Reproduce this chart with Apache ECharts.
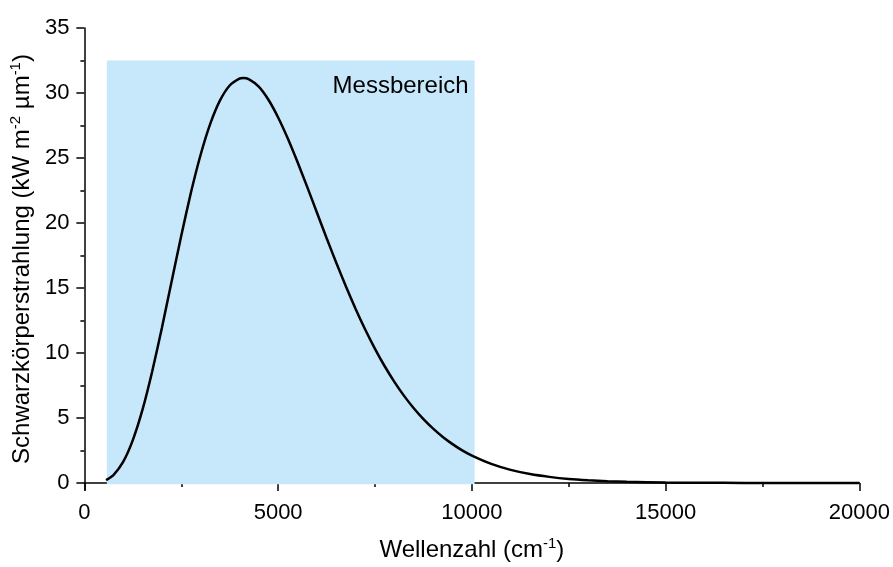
<!DOCTYPE html>
<html>
<head>
<meta charset="utf-8">
<script src="https://cdn.jsdelivr.net/npm/echarts@6/dist/echarts.min.js"></script>
<style>
  html, body { margin: 0; padding: 0; background: #ffffff; }
  #chart { width: 893px; height: 567px; }
</style>
</head>
<body>
<div id="chart"></div>
<script>
// Blackbody spectral irradiance against wavenumber
var wavenumbers = [560, 750, 1000, 1250, 1500, 1750, 2000, 2250, 2500, 2750, 3000, 3250, 3500, 3750,
  4000, 4100, 4250, 4500, 4750, 5000, 5250, 5500, 5750, 6000, 6250, 6500, 6750, 7000, 7250, 7500,
  7750, 8000, 8250, 8500, 8750, 9000, 9250, 9500, 9750, 10000, 10500, 11000, 11500, 12000, 12500,
  13000, 13500, 14000, 15000, 16000, 17000, 18000, 19000, 20000];
var irradiance = [0.22, 0.61, 1.62, 3.30, 5.64, 8.58, 11.93, 15.48, 19.02, 22.34, 25.25, 27.64, 29.43, 30.58,
  31.11, 31.15, 31.05, 30.49, 29.48, 28.12, 26.50, 24.69, 22.78, 20.81, 18.85, 16.94, 15.12, 13.39, 11.79, 10.32,
  8.98, 7.78, 6.70, 5.75, 4.91, 4.18, 3.54, 2.99, 2.51, 2.11, 1.47, 1.01, 0.69, 0.47, 0.31,
  0.21, 0.14, 0.089, 0.038, 0.015, 0.006, 0.0025, 0.001, 0.0004];

// Measurement window (wavenumber range and height of the shaded band)
var rangeX = [580, 10070];
var rangeY = [-0.1, 32.5];
var rangeLabel = 'Messbereich';

// Axis ticks
var yMajorTicks = [0, 5, 10, 15, 20, 25, 30, 35];
var yMinorTicks = [2.5, 7.5, 12.5, 17.5, 22.5, 27.5, 32.5];

var font = 'Liberation Sans, Arial, sans-serif';
var points = wavenumbers.map(function (v, i) { return [v, irradiance[i]]; });

var supStyle = { fontSize: 15, fontFamily: font, color: '#000', verticalAlign: 'top', lineHeight: 16 };
var baseStyle = { fontSize: 24, fontFamily: font, color: '#000', lineHeight: 28 };

var chart = echarts.init(document.getElementById('chart'), null, { renderer: 'canvas' });
chart.setOption({
  animation: false,
  backgroundColor: '#ffffff',
  grid: { left: 84, right: 29, top: 28, bottom: 77, containLabel: false },
  xAxis: {
    type: 'value',
    min: 0, max: 20000, interval: 5000,
    name: '{b|Wellenzahl (cm}{s|-1}{b|)}',
    nameLocation: 'middle',
    nameGap: 46,
    nameTextStyle: { rich: { b: baseStyle, s: supStyle } },
    axisLine: { show: true, lineStyle: { color: '#000', width: 1.5 } },
    axisTick: { show: true, length: 8, lineStyle: { color: '#000', width: 1.5 } },
    minorTick: { show: true, splitNumber: 2, length: 4, lineStyle: { color: '#000', width: 1.5 } },
    axisLabel: {
      color: '#000', fontSize: 22, fontFamily: font, margin: 12,
      formatter: function (v) { return String(v); }
    },
    splitLine: { show: false }
  },
  yAxis: [{
    type: 'value',
    min: -0.54, max: 35,
    name: '{b|Schwarzkörperstrahlung (kW m}{s|-2}{b| µm}{s|-1}{b|)}',
    nameLocation: 'middle',
    nameGap: 44,
    nameTextStyle: { rich: { b: baseStyle, s: supStyle } },
    axisLine: { show: true, onZero: false, lineStyle: { color: '#000', width: 1.5 } },
    axisTick: { show: true, length: 8, customValues: yMajorTicks, lineStyle: { color: '#000', width: 1.5 } },
    axisLabel: { color: '#000', fontSize: 22, fontFamily: font, margin: 15, customValues: yMajorTicks },
    splitLine: { show: false }
  }, {
    type: 'value',
    min: -0.54, max: 35,
    position: 'left',
    axisLine: { show: false },
    axisTick: { show: true, length: 4, customValues: yMinorTicks, lineStyle: { color: '#000', width: 1.5 } },
    axisLabel: { show: false },
    splitLine: { show: false }
  }],
  series: [{
    type: 'line',
    data: points,
    showSymbol: false,
    smooth: 0.2,
    lineStyle: { color: '#000', width: 2.5 },
    z: 3,
    markArea: {
      silent: true,
      itemStyle: { color: '#c7e7fb' },
      label: {
        show: true,
        position: 'insideTopRight',
        distance: 4,
        padding: [10, 2, 0, 0],
        color: '#000',
        fontSize: 24,
        fontFamily: font
      },
      data: [[
        { name: rangeLabel, coord: [rangeX[0], rangeY[1]] },
        { coord: [rangeX[1], rangeY[0]] }
      ]]
    }
  }]
});
</script>
</body>
</html>
